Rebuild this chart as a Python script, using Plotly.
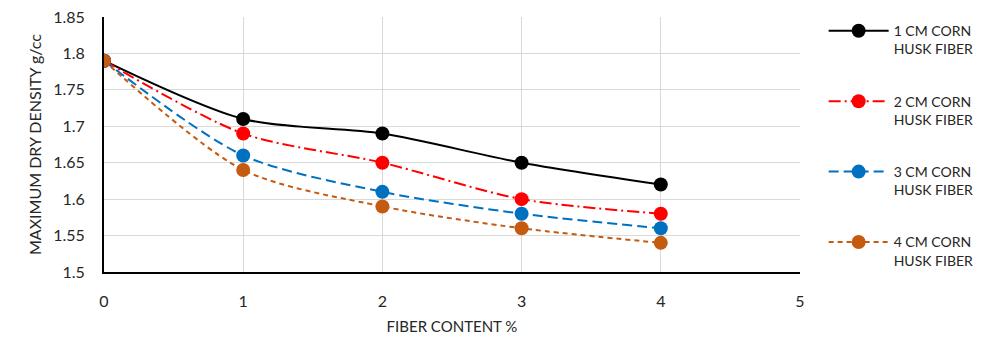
import plotly.graph_objects as go

fiber_content = [0, 1, 2, 3, 4]
s1_values = [1.79, 1.71, 1.69, 1.65, 1.62]
s2_values = [1.79, 1.69, 1.65, 1.60, 1.58]
s3_values = [1.79, 1.66, 1.61, 1.58, 1.56]
s4_values = [1.79, 1.64, 1.59, 1.56, 1.54]
series_names = ["1 CM CORN<br>HUSK FIBER", "2 CM CORN<br>HUSK FIBER",
                "3 CM CORN<br>HUSK FIBER", "4 CM CORN<br>HUSK FIBER"]
colors = ["#000000", "#FF0000", "#0070C0", "#C55A11"]
dashes = ["solid", "12px,4px,2px,4px", "10px,5px", "5px,4px"]

font_family = "Lato, 'Open Sans', sans-serif"
fig = go.Figure()
for i, (name, vals, c, d) in enumerate(zip(series_names, [s1_values, s2_values, s3_values, s4_values], colors, dashes)):
    fig.add_trace(go.Scatter(
        x=fiber_content, y=vals, name=name, mode="lines+markers",
        legendgroup=f"g{i}",
        line=dict(color=c, width=2, dash=d, shape="spline", smoothing=0.8),
        marker=dict(color=c, size=14),
    ))

fig.update_layout(
    width=1002, height=338,
    margin=dict(l=104, r=202, t=17, b=66, autoexpand=False),
    paper_bgcolor="white", plot_bgcolor="white",
    font=dict(family=font_family, size=16, color="#262626"),
    showlegend=True,
    legend=dict(xref="container", yref="container", x=0.822, y=0.955,
                xanchor="left", yanchor="top", valign="top",
                font=dict(size=14, color="#262626"), tracegroupgap=31,
                itemwidth=60, bgcolor="rgba(0,0,0,0)", maxheight=330),
    xaxis=dict(range=[0, 5], dtick=1, showgrid=True, gridcolor="#D9D9D9", gridwidth=1,
               showline=True, linecolor="black", linewidth=2, zeroline=False,
               ticks="", ticklabelstandoff=14, automargin=False,
               title=dict(text="FIBER CONTENT %", font=dict(size=15), standoff=12)),
    yaxis=dict(range=[1.5, 1.85], dtick=0.05, showgrid=True, gridcolor="#D9D9D9", gridwidth=1,
               showline=True, linecolor="black", linewidth=2, zeroline=False,
               ticks="", ticklabelstandoff=14, tickformat="~g", automargin=False,
               title=dict(text="MAXIMUM DRY DENSITY g/cc", font=dict(size=16), standoff=8)),
)

fig.write_html("out.html")
